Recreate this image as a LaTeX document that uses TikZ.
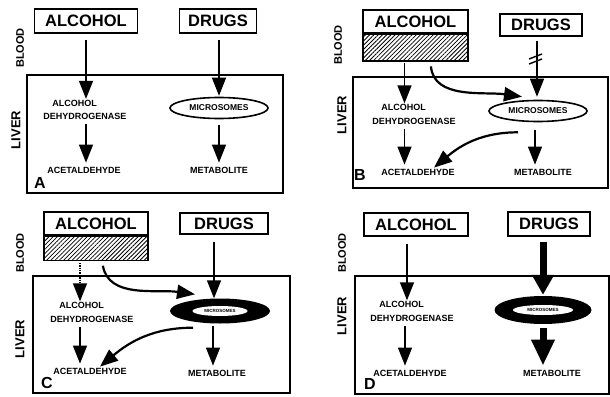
\documentclass[tikz,border=0pt]{standalone}
\usepackage{fontspec}
\setmainfont{Liberation Sans}
\usetikzlibrary{arrows.meta,shapes.geometric,patterns.meta}

\begin{document}
\begin{tikzpicture}[x=1pt,y=-1pt,
	box/.style={draw,line width=1.2pt,inner sep=0pt,font=\fontsize{16.5}{18}\selectfont\bfseries},
	hatch/.style={draw,line width=1.2pt,inner sep=0pt,pattern={Lines[angle=45,distance=3pt,line width=.8pt]}},
	small/.style={inner sep=1pt,font=\fontsize{9}{13.5}\selectfont\bfseries},
	micro/.style={ellipse,draw,line width=1.6pt,inner sep=0pt,minimum width=98pt,minimum height=21pt,font=\fontsize{8.5}{10}\selectfont\bfseries},
	blackmicro/.style={ellipse,fill=black,inner sep=0pt},
	whitemicro/.style={ellipse,fill=white,inner sep=0pt,font=\fontsize{4.5}{5}\selectfont\bfseries},
	tag/.style={font=\fontsize{16}{16}\selectfont\bfseries},
	side/.style={rotate=90,font=\fontsize{11}{12}\selectfont\bfseries},
	arr/.style={line width=1.4pt,-{Triangle[length=18pt,width=14pt]}},
	curvearr/.style={line width=2.2pt,-{Triangle[length=18pt,width=14pt]}},
	fat/.style={line width=7pt,-{Triangle[length=20pt,width=21pt]}}]
	\useasboundingbox (0,0) rectangle (610,396);
	\fill[white] (0,0) rectangle (610,396);
	
	\node[box,minimum width=103pt,minimum height=24pt] (alcA) at (86,21) {ALCOHOL};
	\node[box,minimum width=77pt,minimum height=24pt] (drugA) at (218,21) {DRUGS};
	\draw[line width=1.2pt] (27,75) rectangle (283,193);
	\node[small,align=left] (adhA) at (85,110) {\hspace*{9pt}ALCOHOL\\DEHYDROGENASE};
	\node[small] (aceA) at (84,170) {ACETALDEHYDE};
	\node[micro] (micA) at (219,108) {MICROSOMES};
	\node[small] (metA) at (219,170) {METABOLITE};
	\node[tag] (labA) at (40,183) {A};
	\node[side] (bloodA) at (20,48) {BLOOD};
	\node[side,font=\fontsize{13}{14}\selectfont\bfseries] (liverA) at (16,130) {LIVER};
	\draw[arr,shorten <=6pt] (alcA.south) -- (alcA.south |- adhA.north);
	\draw[arr,shorten <=6pt,shorten >=1pt] (drugA.south -| micA.north) -- (micA.north);
	\draw[arr,shorten <=3pt,shorten >=3pt] (adhA.south -| alcA.south) -- (aceA.north -| alcA.south);
	\draw[arr,shorten <=6pt,shorten >=3pt] (micA.south) -- (micA.south |- metA.north);
	
	\node[box,minimum width=105pt,minimum height=23pt] (alcB) at (415.5,21.5) {ALCOHOL};
	\node[hatch,minimum width=105pt,minimum height=27pt,anchor=north] (hatB) at (alcB.south) {};
	\node[box,minimum width=82pt,minimum height=22pt] (drugB) at (541,25) {DRUGS};
	\draw[line width=1.2pt] (353,77) rectangle (608,188);
	\node[small,align=left] (adhB) at (414,114.5) {\hspace*{9pt}ALCOHOL\\DEHYDROGENASE};
	\node[small] (aceB) at (418,172) {ACETALDEHYDE};
	\node[micro] (micB) at (538,111) {MICROSOMES};
	\node[small] (metB) at (543,172) {METABOLITE};
	\node[tag] (labB) at (360,175) {B};
	\node[side] (bloodB) at (338,45) {BLOOD};
	\node[side,font=\fontsize{13}{14}\selectfont\bfseries] (liverB) at (342,115) {LIVER};
	\draw[arr,shorten <=2pt] ([xshift=-11pt]hatB.south) -- ([xshift=-11pt]hatB.south |- adhB.north);
	\draw[curvearr,shorten <=5pt] ([xshift=15pt]hatB.south) to[out=-85,in=172] ([xshift=-16pt,yshift=3pt]micB.north);
	\draw[arr,shorten <=4pt,shorten >=3pt] ([xshift=-4pt]drugB.south) -- ([xshift=-4pt]drugB.south |- micB.north);
	\draw[line width=1.4pt] (529,59) -- (542,54) (529,64) -- (542,59);
	\draw[curvearr] ([xshift=-20pt,yshift=-10pt]micB.south) to[out=180,in=40] ([xshift=16pt]aceB.north);
	\draw[arr,shorten <=3pt,shorten >=3pt] ([xshift=-11pt]hatB.south |- adhB.south) -- ([xshift=-11pt]hatB.south |- aceB.north);
	\draw[arr,shorten <=8pt,shorten >=3pt] ([xshift=-3pt]micB.south) -- ([xshift=-3pt]micB.south |- metB.north);
	
	\node[box,minimum width=104pt,minimum height=23pt] (alcC) at (96,223.5) {ALCOHOL};
	\node[hatch,minimum width=104pt,minimum height=24pt,anchor=north] (hatC) at (alcC.south) {};
	\node[box,minimum width=88pt,minimum height=21pt] (drugC) at (224,223.5) {DRUGS};
	\draw[line width=1.2pt] (33,276) rectangle (290,393);
	\node[small,align=left] (adhC) at (92,312.5) {\hspace*{9pt}ALCOHOL\\DEHYDROGENASE};
	\node[small] (aceC) at (90,371) {ACETALDEHYDE};
	\node[blackmicro,minimum width=100pt,minimum height=25pt] (micC) at (220,311) {};
	\node[whitemicro,minimum width=55pt,minimum height=10pt] (micCin) at (micC) {MICROSOMES};
	\node[small] (metC) at (217,373) {METABOLITE};
	\node[tag] (labC) at (47,383) {C};
	\node[side] (bloodC) at (20,253) {BLOOD};
	\node[side,font=\fontsize{13}{14}\selectfont\bfseries] (liverC) at (20,339) {LIVER};
	\draw[arr,densely dotted,shorten <=2pt] ([xshift=-16pt]hatC.south) -- ([xshift=-16pt]hatC.south |- adhC.north);
	\draw[curvearr,shorten <=5pt] ([xshift=6pt]hatC.south) to[out=-80,in=172] ([xshift=-25pt,yshift=4pt]micC.north);
	\draw[arr,shorten <=7pt] ([xshift=-10pt]drugC.south) -- ([xshift=-10pt]drugC.south |- micC.north);
	\draw[curvearr] ([xshift=-27pt,yshift=-4pt]micC.south) to[out=180,in=40] ([xshift=10pt]aceC.north);
	\draw[arr,shorten <=3pt,shorten >=3pt] ([xshift=-16pt]hatC.south |- adhC.south) -- ([xshift=-16pt]hatC.south |- aceC.north);
	\draw[arr,shorten <=2pt,shorten >=3pt] ([xshift=-7pt]micC.south) -- ([xshift=-7pt]micC.south |- metC.north);
	
	\node[box,minimum width=104pt,minimum height=23pt] (alcD) at (416,224.5) {ALCOHOL};
	\node[box,minimum width=82pt,minimum height=24pt] (drugD) at (549,224) {DRUGS};
	\draw[line width=1.2pt] (355,276) rectangle (609,394);
	\node[small,align=left] (adhD) at (412,311.5) {\hspace*{9pt}ALCOHOL\\DEHYDROGENASE};
	\node[small] (aceD) at (410,373) {ACETALDEHYDE};
	\node[blackmicro,minimum width=97pt,minimum height=28pt] (micD) at (543,310) {};
	\node[whitemicro,minimum width=60pt,minimum height=10pt] (micDin) at (micD) {MICROSOMES};
	\node[small] (metD) at (552,373) {METABOLITE};
	\node[tag] (labD) at (370,384) {D};
	\node[side] (bloodD) at (342,253) {BLOOD};
	\node[side,font=\fontsize{13}{14}\selectfont\bfseries] (liverD) at (342,316) {LIVER};
	\draw[arr,shorten <=7pt] ([xshift=-9pt]alcD.south) -- ([xshift=-9pt]alcD.south |- adhD.north);
	\draw[fat,shorten <=5pt,shorten >=1pt] ([xshift=-6pt]drugD.south) -- ([xshift=-6pt]drugD.south |- micD.north);
	\draw[arr,shorten <=3pt,shorten >=3pt] ([xshift=-11pt]alcD.south |- adhD.south) -- ([xshift=-11pt]alcD.south |- aceD.north);
	\draw[fat,shorten <=4pt,shorten >=3pt,-{Triangle[length=26pt,width=22pt]}] (micD.south) -- (micD.south |- metD.north);
\end{tikzpicture}
\end{document}
